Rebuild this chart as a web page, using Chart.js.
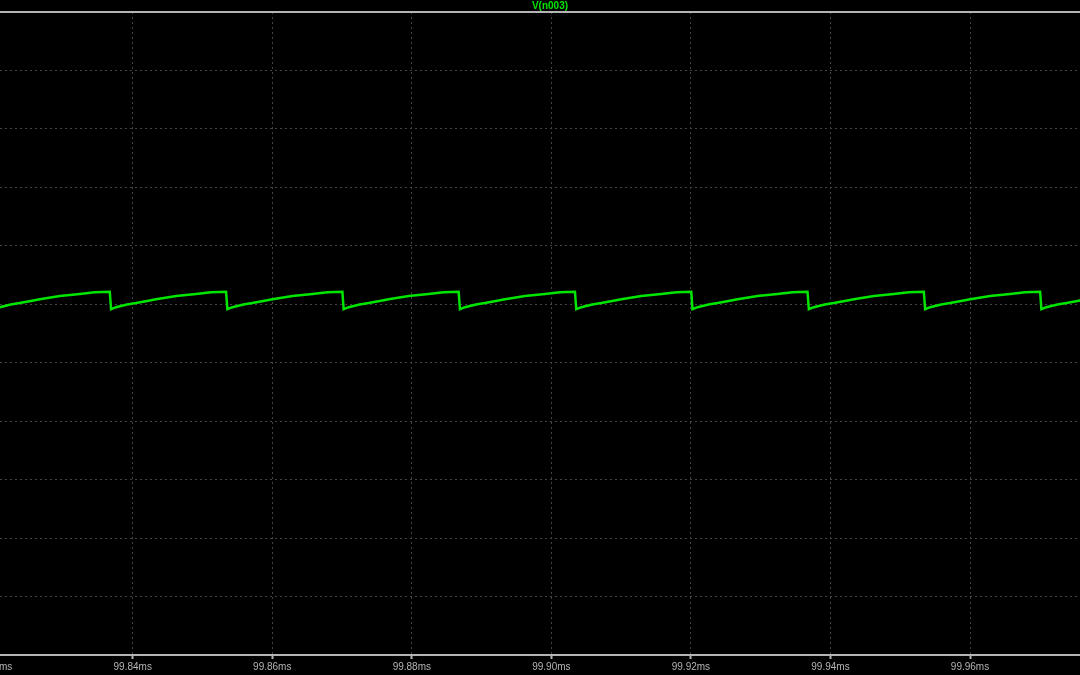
<!DOCTYPE html>
<html>
<head>
<meta charset="utf-8">
<script src="https://cdn.jsdelivr.net/npm/chart.js@4.4.1/dist/chart.umd.min.js"></script>
<style>
  html, body { margin: 0; padding: 0; background: #000; overflow: hidden; width: 1080px; height: 675px; }
  #wrap { position: absolute; left: -60px; top: 0; width: 1220px; height: 675px; }
</style>
</head>
<body>
<div id="wrap"><canvas id="plot"></canvas></div>
<script>
// time axis in ms (one sawtooth per ~16.67us)
let timeMs = [
  99.81790, 99.82004,
  99.82023, 99.82095, 99.82252, 99.82381, 99.82539, 99.82668, 99.82955, 99.83241, 99.83456, 99.83671,
  99.83690, 99.83762, 99.83919, 99.84048, 99.84206, 99.84335, 99.84622, 99.84908, 99.85123, 99.85338,
  99.85357, 99.85429, 99.85586, 99.85715, 99.85873, 99.86002, 99.86289, 99.86575, 99.86790, 99.87005,
  99.87023, 99.87095, 99.87252, 99.87381, 99.87539, 99.87668, 99.87955, 99.88241, 99.88456, 99.88671,
  99.88690, 99.88762, 99.88919, 99.89048, 99.89206, 99.89335, 99.89622, 99.89908, 99.90123, 99.90338,
  99.90357, 99.90429, 99.90586, 99.90715, 99.90873, 99.91002, 99.91289, 99.91575, 99.91790, 99.92005,
  99.92023, 99.92095, 99.92252, 99.92381, 99.92539, 99.92668, 99.92955, 99.93241, 99.93456, 99.93671,
  99.93690, 99.93762, 99.93919, 99.94048, 99.94206, 99.94335, 99.94622, 99.94908, 99.95123, 99.95338,
  99.95357, 99.95429, 99.95586, 99.95715, 99.95873, 99.96002, 99.96289, 99.96575, 99.96790, 99.97005,
  99.97023, 99.97095, 99.97252, 99.97381, 99.97539, 99.97668, 99.97955, 99.98241
];
// V(n003) in volts
let voltage = [
  12.41, 12.43,
  11.83, 11.90, 11.99, 12.04, 12.11, 12.17, 12.28, 12.35, 12.41, 12.43,
  11.83, 11.90, 11.99, 12.04, 12.11, 12.17, 12.28, 12.35, 12.41, 12.43,
  11.83, 11.90, 11.99, 12.04, 12.11, 12.17, 12.28, 12.35, 12.41, 12.43,
  11.83, 11.90, 11.99, 12.04, 12.11, 12.17, 12.28, 12.35, 12.41, 12.43,
  11.83, 11.90, 11.99, 12.04, 12.11, 12.17, 12.28, 12.35, 12.41, 12.43,
  11.83, 11.90, 11.99, 12.04, 12.11, 12.17, 12.28, 12.35, 12.41, 12.43,
  11.83, 11.90, 11.99, 12.04, 12.11, 12.17, 12.28, 12.35, 12.41, 12.43,
  11.83, 11.90, 11.99, 12.04, 12.11, 12.17, 12.28, 12.35, 12.41, 12.43,
  11.83, 11.90, 11.99, 12.04, 12.11, 12.17, 12.28, 12.35, 12.41, 12.43,
  11.83, 11.90, 11.99, 12.04, 12.11, 12.17, 12.28, 12.35
];
let xTicks = [99.82, 99.84, 99.86, 99.88, 99.90, 99.92, 99.94, 99.96, 99.98];
let traceName = 'V(n003)';

const GREEN = '#00e600';
const AXIS = '#b4b4b4';
const GRID = '#444444';

// solid frame line along the top of the plot (LTspice style)
const topFrame = {
  id: 'topFrame',
  beforeDatasetsDraw(chart) {
    const { ctx, chartArea } = chart;
    ctx.save();
    ctx.strokeStyle = AXIS;
    ctx.lineWidth = 2;
    ctx.beginPath();
    ctx.moveTo(chartArea.left, chartArea.top);
    ctx.lineTo(chartArea.right, chartArea.top);
    ctx.stroke();
    ctx.restore();
  }
};

let ctx = document.getElementById('plot').getContext('2d');
let chart = new Chart(ctx, {
  type: 'line',
  data: {
    datasets: [{
      label: traceName,
      data: timeMs.map((t, i) => ({ x: t, y: voltage[i] })),
      borderColor: GREEN,
      borderWidth: 2.5,
      pointRadius: 0,
      tension: 0,
      fill: false
    }]
  },
  options: {
    responsive: true,
    maintainAspectRatio: false,
    animation: false,
    layout: { padding: 0 },
    plugins: {
      legend: { display: false },
      tooltip: { enabled: false },
      title: {
        display: true,
        text: traceName,
        color: GREEN,
        font: { family: 'Liberation Sans', size: 10 },
        padding: 0
      }
    },
    scales: {
      x: {
        type: 'linear',
        min: 99.81238,
        max: 99.98723,
        afterBuildTicks: (scale) => { scale.ticks = xTicks.map(v => ({ value: v })); },
        ticks: {
          color: AXIS,
          font: { family: 'Liberation Sans', size: 10 },
          padding: 2,
          maxRotation: 0,
          autoSkip: false,
          callback: (v) => Number(v).toFixed(2) + 'ms'
        },
        grid: {
          color: GRID,
          lineWidth: 1,
          tickLength: 4,
          tickColor: AXIS,
          tickWidth: 2
        },
        border: { display: true, color: AXIS, width: 2, dash: [2, 3] }
      },
      y: {
        min: 0,
        max: 22,
        ticks: { display: false, stepSize: 2 },
        grid: { color: GRID, lineWidth: 1, drawTicks: false },
        border: { display: false, dash: [2, 3] }
      }
    }
  },
  plugins: [topFrame]
});
</script>
</body>
</html>
